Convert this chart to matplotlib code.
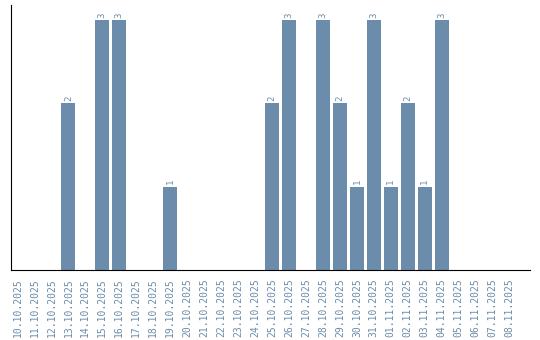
import numpy as np
import matplotlib.pyplot as plt

dates = ["10.10.2025", "11.10.2025", "12.10.2025", "13.10.2025", "14.10.2025",
         "15.10.2025", "16.10.2025", "17.10.2025", "18.10.2025", "19.10.2025",
         "20.10.2025", "21.10.2025", "22.10.2025", "23.10.2025", "24.10.2025",
         "25.10.2025", "26.10.2025", "27.10.2025", "28.10.2025", "29.10.2025",
         "30.10.2025", "31.10.2025", "01.11.2025", "02.11.2025", "03.11.2025",
         "04.11.2025", "05.11.2025", "06.11.2025", "07.11.2025", "08.11.2025"]
counts = [0, 0, 0, 2, 0, 3, 3, 0, 0, 1,
          0, 0, 0, 0, 0, 2, 3, 0, 3, 2,
          1, 3, 1, 2, 1, 3, 0, 0, 0, 0]

col = "#6b8cab"
fig = plt.figure(figsize=(5.4, 3.4), dpi=100)
ax = fig.add_axes([0.0204, 0.206, 0.961, 0.779])

x = np.arange(len(dates))
bars = ax.bar(x, counts, width=0.82, color=col)
for xi, v in zip(x, counts):
    if v > 0:
        ax.text(xi, v + 0.03, str(v), rotation=90, ha="center", va="bottom",
                color=col, fontsize=6.5, family="DejaVu Sans Mono")

ax.set_xlim(-0.38, 30.2)
ax.set_ylim(0, 3.18)
ax.set_xticks(x)
ax.set_xticklabels(dates, rotation=90, color=col, fontsize=7, family="DejaVu Sans Mono")
ax.tick_params(axis="x", length=0, pad=6)
ax.set_yticks([])
ax.spines["top"].set_visible(False)
ax.spines["right"].set_visible(False)

fig.savefig("out.png", dpi=100)
